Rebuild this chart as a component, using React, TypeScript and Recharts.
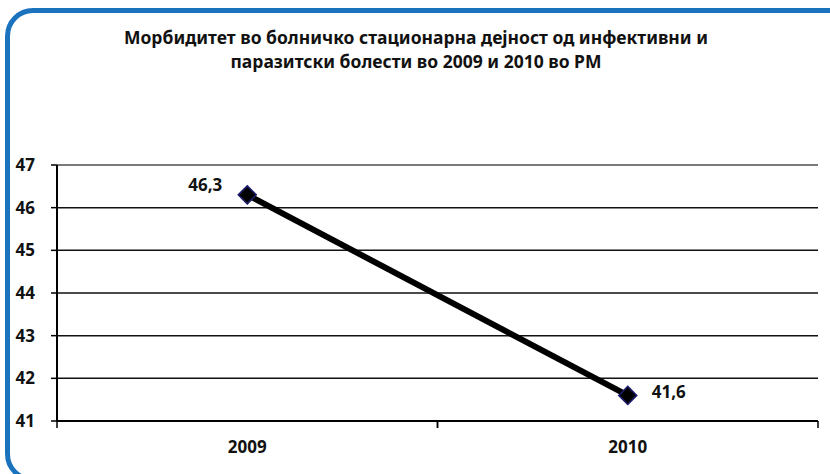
import { CartesianGrid, LabelList, Line, LineChart, ReferenceLine, XAxis, YAxis } from "recharts";

const years = ["2009", "2010"];
const morbidity = [46.3, 41.6];
const yTicks = [41, 42, 43, 44, 45, 46, 47];

const data = years.map((year, i) => ({ year, value: morbidity[i] }));

const FONT = "'Noto Sans', sans-serif";
const BLUE = "#1b73bd";

const formatComma = (v: number) => v.toFixed(1).replace(".", ",");

// category label in the middle, tick marks on the band edges like Excel does
const YearTick = (props: any) => {
  const { x, y, payload, width, visibleTicksCount } = props;
  const half = width && visibleTicksCount ? width / visibleTicksCount / 2 : 190;
  return (
    <g>
      <line x1={x - half} x2={x - half} y1={y - 8} y2={y - 1} stroke="#000" strokeWidth={1.5} />
      <line x1={x + half} x2={x + half} y1={y - 8} y2={y - 1} stroke="#000" strokeWidth={1.5} />
      <text x={x} y={y + 24} textAnchor="middle" fontFamily={FONT} fontWeight={700} fontSize={17} fill="#111">
        {payload.value}
      </text>
    </g>
  );
};

const Diamond = (props: any) => {
  const { cx, cy } = props;
  if (cx == null || cy == null) return null;
  const r = 9;
  return (
    <polygon
      points={`${cx},${cy - r} ${cx + r},${cy} ${cx},${cy + r} ${cx - r},${cy}`}
      fill="#000"
      stroke="#1c1c6b"
      strokeWidth={1.5}
    />
  );
};

const PointLabel = (props: any) => {
  const { x, y, value, index } = props;
  const left = index === 0;
  return (
    <text
      x={left ? x - 25 : x + 24}
      y={left ? y - 4 : y + 3}
      textAnchor={left ? "end" : "start"}
      fontFamily={FONT}
      fontWeight={700}
      fontSize={17}
      fill="#111"
    >
      {formatComma(Number(value))}
    </text>
  );
};

export default function App() {
  return (
    <div style={{ position: "absolute", left: 0, top: 0, width: 830, height: 474, overflow: "hidden", background: "#fff" }}>
      <div
        style={{
          position: "absolute",
          left: 5,
          top: 8,
          width: 860,
          height: 464,
          border: `5px solid ${BLUE}`,
          borderRadius: 28,
        }}
      />
      <div
        style={{
          position: "absolute",
          left: 16,
          width: 800,
          top: 25,
          textAlign: "center",
          fontFamily: FONT,
          fontWeight: 700,
          fontSize: 17.5,
          lineHeight: "24px",
          color: "#111",
        }}
      >
        Морбидитет во болничко стационарна дејност од инфективни и
        <br />
        паразитски болести во 2009 и 2010 во РМ
      </div>
      <div style={{ position: "absolute", left: 0, top: 0 }}>
        <LineChart width={830} height={474} data={data} margin={{ top: 165, right: 12, bottom: 13, left: 0 }}>
          <CartesianGrid horizontal vertical={false} stroke="#111" strokeWidth={1.5} />
          <XAxis
            dataKey="year"
            scale="band"
            axisLine={{ stroke: "#000", strokeWidth: 2 }}
            tickLine={false}
            tick={<YearTick />}
            height={40}
            interval={0}
          />
          <YAxis
            domain={[41, 47]}
            ticks={yTicks}
            type="number"
            width={57}
            axisLine={{ stroke: "#000", strokeWidth: 2 }}
            tickLine={{ stroke: "#000", strokeWidth: 1.5 }}
            tickSize={6}
            tickMargin={16}
            tick={{ fill: "#111", fontFamily: FONT, fontWeight: 700, fontSize: 17 }}
          />
          <YAxis
            yAxisId="frame"
            orientation="right"
            domain={[41, 47]}
            type="number"
            width={0}
            tick={false}
            tickLine={false}
            axisLine={{ stroke: "#8a8a8a", strokeWidth: 1.5 }}
          />
          <ReferenceLine y={47} stroke="#8a8a8a" strokeWidth={1.5} />
          <Line
            dataKey="value"
            stroke="#000"
            strokeWidth={6}
            dot={<Diamond />}
            activeDot={false}
            isAnimationActive={false}
          >
            <LabelList dataKey="value" content={<PointLabel />} />
          </Line>
        </LineChart>
      </div>
    </div>
  );
}
